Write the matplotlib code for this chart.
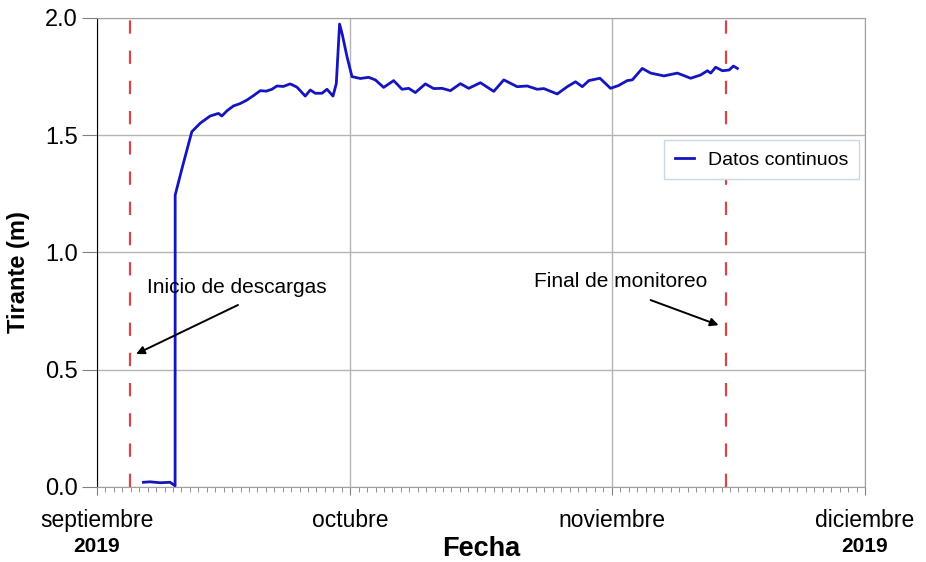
import numpy as np
import matplotlib
matplotlib.use('Agg')
import matplotlib.pyplot as plt
import matplotlib.dates as mdates

plt.rcParams['font.family'] = ['Liberation Sans', 'DejaVu Sans']

# days elapsed since 2019-09-01 and water depth (m)
dias = [5.49, 6.29, 7.47, 8.66, 9.25, 9.26, 10.08, 11.23, 12.22, 13.40, 14.39, 14.79,
        15.42, 16.17, 16.96, 17.76, 18.50, 19.34, 20.05, 20.72, 21.32, 22.06, 22.89,
        23.69, 24.67, 25.27, 25.86, 26.66, 27.25, 27.96, 28.35, 28.74, 29.06, 29.62,
        30.21, 31.20, 32.18, 32.98, 33.96, 35.15, 36.14, 36.93, 37.72, 38.91, 39.89,
        40.89, 41.87, 43.06, 44.04, 45.43, 47.01, 48.20, 49.79, 50.97, 52.16, 52.94,
        54.53, 55.72, 56.70, 57.50, 58.28, 59.59, 60.85, 61.80, 62.83, 63.43, 64.61,
        65.60, 67.18, 68.77, 70.34, 71.53, 72.32, 72.72, 73.31, 74.11, 74.89, 75.41,
        75.88]
tirante = [0.020, 0.022, 0.018, 0.020, 0.005, 1.245, 1.36, 1.515, 1.551, 1.582, 1.593, 1.582,
           1.605, 1.625, 1.635, 1.650, 1.668, 1.690, 1.688, 1.696, 1.710, 1.708, 1.719,
           1.705, 1.667, 1.693, 1.679, 1.679, 1.696, 1.667, 1.720, 1.974, 1.930, 1.835,
           1.750, 1.742, 1.747, 1.736, 1.704, 1.733, 1.696, 1.700, 1.682, 1.719, 1.699,
           1.700, 1.690, 1.720, 1.700, 1.724, 1.687, 1.736, 1.707, 1.710, 1.696, 1.699,
           1.676, 1.707, 1.728, 1.707, 1.733, 1.743, 1.700, 1.712, 1.733, 1.736, 1.785,
           1.765, 1.753, 1.765, 1.743, 1.757, 1.775, 1.765, 1.790, 1.775, 1.778, 1.795,
           1.785]

inicio = 3.9      # inicio de descargas
final = 74.5      # final de monitoreo

meses = ['septiembre', 'octubre', 'noviembre', 'diciembre']
fechas_meses = ['2019-09-01', '2019-10-01', '2019-11-01', '2019-12-01']

t0 = np.datetime64('2019-09-01T00:00')
def to_date(d):
    return t0 + np.array(np.round(np.asarray(d) * 24 * 60), dtype='timedelta64[m]')

x = to_date(dias)

fig = plt.figure(figsize=(9.26, 5.62), dpi=100)
ax = fig.add_axes([0.1048, 0.1335, 0.8293, 0.8345])

ax.plot(x, tirante, color='#1515c0', lw=2, label='Datos continuos', zorder=3)
for d in (inicio, final):
    ax.axvline(to_date(d), color='#d9464a', lw=1.6, ls=(0, (6, 7.6)), zorder=2)

ax.set_xlim(np.datetime64('2019-09-01'), np.datetime64('2019-12-01'))
ax.set_ylim(0, 2.0)

xt = [np.datetime64(f) for f in fechas_meses]
ax.set_xticks(xt)
ax.set_xticklabels(meses, fontsize=16.5)
ax.xaxis.set_minor_locator(mdates.DayLocator())
ax.tick_params(axis='x', which='major', length=6, color='#808080', pad=10)
ax.tick_params(axis='x', which='minor', length=3.5, color='#808080')
ax.set_yticks([0, 0.5, 1.0, 1.5, 2.0])
ax.set_yticklabels(['0.0', '0.5', '1.0', '1.5', '2.0'], fontsize=17)
ax.tick_params(axis='y', length=11, color='#808080', pad=3)

for i in (0, 3):
    ax.text(xt[i], -0.126, '2019', transform=ax.get_xaxis_transform(),
            ha='center', va='center', fontsize=15, fontweight='bold')

ax.grid(True, which='major', color='#b4b4b4', lw=1)
ax.spines['left'].set_color('black')
for s in ('bottom', 'top', 'right'):
    ax.spines[s].set_color('#a0a0a0')

ax.set_xlabel('Fecha', fontsize=19.5, fontweight='bold')
ax.xaxis.set_label_coords(0.5, -0.104)
ax.set_ylabel('Tirante (m)', fontsize=17, fontweight='bold')
ax.yaxis.set_label_coords(-0.087, 0.458)

# annotations
ax.text(to_date(16.6), 0.85, 'Inicio de descargas', fontsize=15, ha='center', va='center')
ax.annotate('', xy=(to_date(4.63), 0.567), xytext=(to_date(16.7), 0.776),
            arrowprops=dict(arrowstyle='-|>', color='black', lw=1.4, shrinkA=0,
                            shrinkB=0, mutation_scale=12))
ax.text(to_date(62.1), 0.875, 'Final de monitoreo', fontsize=15, ha='center', va='center')
ax.annotate('', xy=(to_date(73.65), 0.69), xytext=(to_date(65.6), 0.797),
            arrowprops=dict(arrowstyle='-|>', color='black', lw=1.4, shrinkA=0,
                            shrinkB=0, mutation_scale=12))

leg = ax.legend(loc='upper right', bbox_to_anchor=(1.005, 0.76), fontsize=14,
                fancybox=False, framealpha=1, handlelength=1.0, handletextpad=0.7,
                borderpad=0.55)
leg.get_frame().set_edgecolor('#c8d8e8')

fig.savefig('out.png', dpi=100)
